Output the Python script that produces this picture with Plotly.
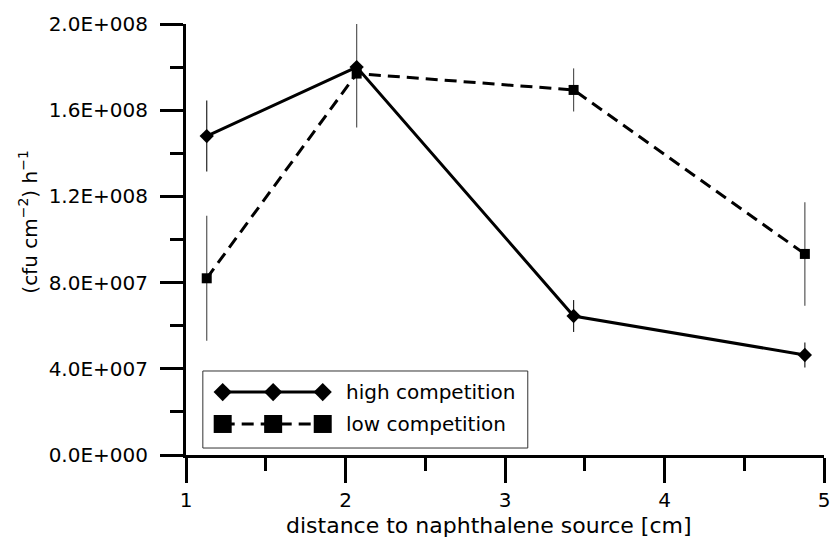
import plotly.graph_objects as go

# ---- data ----
distance = [1.13, 2.07, 3.43, 4.88]
high_competition = [1.48e8, 1.80e8, 6.45e7, 4.64e7]
high_err = [1.65e7, 0, 7.4e6, 5.8e6]
low_competition = [8.2e7, 1.77e8, 1.694e8, 9.33e7]
low_err = [2.9e7, 2.5e7, 1.0e7, 2.4e7]

y_tickvals = [0, 4e7, 8e7, 1.2e8, 1.6e8, 2.0e8]
y_ticktext = ["0.0E+000", "4.0E+007", "8.0E+007", "1.2E+008", "1.6E+008", "2.0E+008"]
x_tickvals = [1, 2, 3, 4, 5]
series_names = ["high competition", "low competition"]
x_title = "distance to naphthalene source [cm]"
y_title = "(cfu cm<sup>\u22122</sup>) h<sup>\u22121</sup>"

FONT = "DejaVu Sans"
DASH = "12px,7px"

fig = go.Figure()

fig.add_trace(go.Scatter(
    x=distance, y=low_competition, mode="lines+markers", name=series_names[1],
    line=dict(color="black", width=3, dash=DASH),
    marker=dict(symbol="square", size=10, color="black"),
    error_y=dict(type="data", array=low_err, visible=True, color="#555", thickness=1.2, width=0),
    showlegend=False, cliponaxis=False,
))
fig.add_trace(go.Scatter(
    x=distance, y=high_competition, mode="lines+markers", name=series_names[0],
    line=dict(color="black", width=3),
    marker=dict(symbol="diamond", size=11, color="black"),
    error_y=dict(type="data", array=high_err, visible=True, color="#222", thickness=1.2, width=0),
    showlegend=False, cliponaxis=False,
))

# ---- custom legend (samples drawn on a hidden overlay axis in paper-like units) ----
leg_x = [0.0575, 0.1366, 0.2143]
leg_y = [0.146, 0.072]
fig.add_trace(go.Scatter(
    x=leg_x, y=[leg_y[0]] * 3, xaxis="x2", yaxis="y2", mode="lines+markers",
    line=dict(color="black", width=3), marker=dict(symbol="diamond", size=14, color="black"),
    showlegend=False, hoverinfo="skip",
))
fig.add_trace(go.Scatter(
    x=leg_x, y=[leg_y[1]] * 3, xaxis="x2", yaxis="y2", mode="lines+markers",
    line=dict(color="black", width=3, dash=DASH), marker=dict(symbol="square", size=18, color="black"),
    showlegend=False, hoverinfo="skip",
))

fig.add_shape(type="rect", xref="paper", yref="paper", x0=0.0264, x1=0.5357, y0=0.0162, y1=0.1949,
              line=dict(color="#333", width=1), fillcolor="white", layer="below")
for name, yy in zip(series_names, leg_y):
    fig.add_annotation(x=0.247, y=yy, xref="paper", yref="paper", text=name, showarrow=False,
                       xanchor="left", yanchor="middle", font=dict(family=FONT, size=20, color="black"))

fig.add_annotation(x=-0.247, y=0.54, xref="paper", yref="paper",
                   text=y_title, textangle=-90,
                   showarrow=False, xanchor="center", yanchor="middle",
                   font=dict(family=FONT, size=20, color="black"))
fig.add_annotation(x=0.475, y=-0.163, xref="paper", yref="paper",
                   text=x_title, showarrow=False, xanchor="center", yanchor="middle",
                   font=dict(family=FONT, size=22, color="black"))

fig.update_layout(
    width=838, height=541,
    margin=dict(l=186, r=8, t=24, b=86),
    paper_bgcolor="white", plot_bgcolor="white",
    font=dict(family=FONT, size=20, color="black"),
    showlegend=False,
    xaxis=dict(
        range=[1, 5], tickvals=x_tickvals, ticks="outside", ticklen=25, tickwidth=3,
        tickcolor="black", showline=True, linewidth=3, linecolor="black",
        showgrid=False, zeroline=False,
        minor=dict(ticks="outside", ticklen=13, tickwidth=3, tickcolor="black", dtick=0.5, showgrid=False),
        tickfont=dict(family=FONT, size=20),
    ),
    yaxis=dict(
        range=[0, 2.0e8], tickvals=y_tickvals, ticktext=y_ticktext, ticks="outside",
        ticklen=23, tickwidth=3, tickcolor="black", showline=True, linewidth=3, linecolor="black",
        showgrid=False, zeroline=False,
        minor=dict(ticks="outside", ticklen=13, tickwidth=3, tickcolor="black", dtick=2e7, showgrid=False),
        tickfont=dict(family=FONT, size=20), ticklabelstandoff=8,
    ),
    xaxis2=dict(overlaying="x", range=[0, 1], visible=False, domain=[0, 1]),
    yaxis2=dict(overlaying="y", range=[0, 1], visible=False, domain=[0, 1]),
)

fig.write_html("out.html")
